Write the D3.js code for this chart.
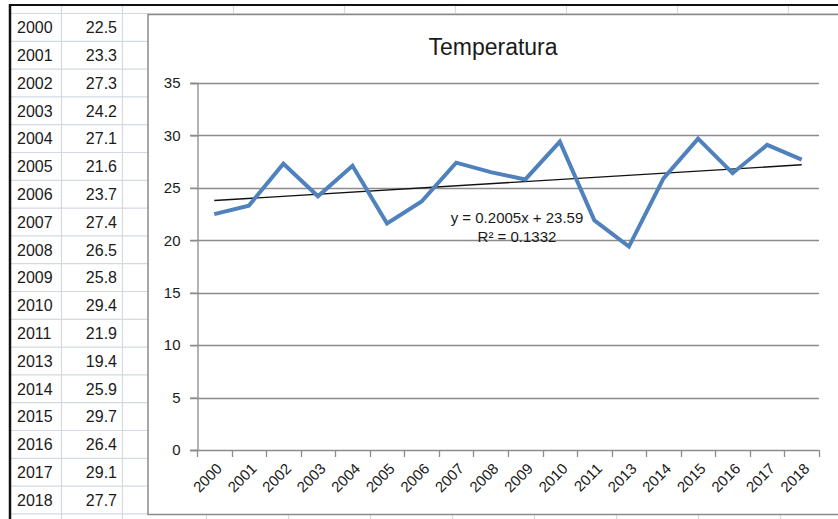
<!DOCTYPE html>
<html>
<head>
<meta charset="utf-8">
<script src="https://cdn.jsdelivr.net/npm/d3@7"></script>
<style>
  body { margin: 0; background: #fff; }
  svg { display: block; font-family: "Liberation Sans", Arial, sans-serif; }
</style>
</head>
<body>
<div id="chart"></div>
<script>
//Datos
const years = ['2000','2001','2002','2003','2004','2005','2006','2007','2008','2009',
               '2010','2011','2013','2014','2015','2016','2017','2018'];
const temps = [22.5, 23.3, 27.3, 24.2, 27.1, 21.6, 23.7, 27.4, 26.5, 25.8,
               29.4, 21.9, 19.4, 25.9, 29.7, 26.4, 29.1, 27.7];
const yTicks = [0, 5, 10, 15, 20, 25, 30, 35];
const trendSlope = 0.2005, trendIntercept = 23.59;
const trendLabels = ['y = 0.2005x + 23.59', 'R² = 0.1332'];
const chartTitle = 'Temperatura';

//Colores
const COLOR_LINE = '#4f81bd',
COLOR_GRID = '#8c8c8c',
COLOR_CELL = '#d4d9e2',
COLOR_TEXT = '#1a1a1a';

const W = 838, H = 519;

let svg = d3.select('#chart').append('svg')
    .attr('width', W).attr('height', H);

svg.append('rect').attr('width', W).attr('height', H).attr('fill', '#fff');

//Hoja de cálculo (fondo)
let rowH = 27.8, rowTop = 13.5;
let sheet = svg.append('g');

sheet.selectAll('.hrow')
    .data(d3.range(years.length + 1))
    .enter().append('line')
    .attr('x1', 10).attr('x2', 150)
    .attr('y1', d => rowTop + d * rowH).attr('y2', d => rowTop + d * rowH)
    .attr('stroke', COLOR_CELL).attr('stroke-width', 1.2);

sheet.selectAll('.vcol')
    .data([61.5, 122.5])
    .enter().append('line')
    .attr('x1', d => d).attr('x2', d => d)
    .attr('y1', 5).attr('y2', H)
    .attr('stroke', COLOR_CELL).attr('stroke-width', 1.2);

//marcas de columnas por encima y por debajo del gráfico
sheet.selectAll('.vtop')
    .data([233.5, 344.5, 455.5, 566.5, 677.5, 788.5])
    .enter().append('line')
    .attr('x1', d => d).attr('x2', d => d)
    .attr('y1', 5).attr('y2', 14)
    .attr('stroke', COLOR_CELL).attr('stroke-width', 1.2);

sheet.selectAll('.vbot')
    .data([206.5, 288.5, 370.5, 452.5, 534.5, 616.5, 698.5, 780.5])
    .enter().append('line')
    .attr('x1', d => d).attr('x2', d => d)
    .attr('y1', 515).attr('y2', H)
    .attr('stroke', COLOR_CELL).attr('stroke-width', 1.2);

sheet.append('line')
    .attr('x1', 10).attr('x2', W).attr('y1', 13.5).attr('y2', 13.5)
    .attr('stroke', COLOR_CELL).attr('stroke-width', 1.2);

//Bordes negros
sheet.append('line')
    .attr('x1', 9).attr('x2', W).attr('y1', 5).attr('y2', 5)
    .attr('stroke', '#111').attr('stroke-width', 2);
sheet.append('line')
    .attr('x1', 10).attr('x2', 10).attr('y1', 4).attr('y2', H)
    .attr('stroke', '#111').attr('stroke-width', 2.5);

//Texto de la tabla
let cells = sheet.selectAll('.cell')
    .data(years.map((y, i) => ({ year: y, temp: temps[i], i: i })))
    .enter().append('g')
    .attr('transform', d => 'translate(0,' + (rowTop + d.i * rowH + rowH / 2) + ')');

cells.append('text')
    .attr('x', 17).attr('dy', '0.36em')
    .attr('font-size', 16).attr('fill', COLOR_TEXT)
    .text(d => d.year);

cells.append('text')
    .attr('x', 117).attr('dy', '0.36em')
    .attr('text-anchor', 'end')
    .attr('font-size', 16).attr('fill', COLOR_TEXT)
    .text(d => d.temp.toFixed(1));

//Área del gráfico
svg.append('rect')
    .attr('x', 148).attr('y', 14.5)
    .attr('width', W - 148 + 2).attr('height', 500)
    .attr('fill', '#fff')
    .attr('stroke', '#8a8a8a').attr('stroke-width', 1.5);

let x = d3.scaleBand()
    .domain(years)
    .range([197, 819]);

let y = d3.scaleLinear()
    .domain([0, 35])
    .range([450, 83]);

let plot = svg.append('g');

//Líneas de cuadrícula
plot.selectAll('.grid')
    .data(yTicks.filter(d => d > 0))
    .enter().append('line')
    .attr('x1', 190).attr('x2', 819)
    .attr('y1', d => Math.round(y(d)) + 0.5).attr('y2', d => Math.round(y(d)) + 0.5)
    .attr('stroke', COLOR_GRID).attr('stroke-width', 1.3);

//Eje Y
let yAxis = plot.append('g')
    .attr('transform', 'translate(197.5,0)')
    .call(d3.axisLeft(y).tickValues(yTicks).tickSize(7).tickPadding(10));
yAxis.select('.domain').attr('stroke', COLOR_GRID).attr('stroke-width', 1.3);
yAxis.selectAll('.tick line').attr('stroke', COLOR_GRID).attr('stroke-width', 1.3);
yAxis.selectAll('.tick text')
    .attr('font-size', 15).attr('fill', COLOR_TEXT)
    .attr('font-family', '"Liberation Sans", Arial, sans-serif');

//Eje X
let xBounds = years.map(d => x(d)).concat([x.range()[1]]);
let xAxis = plot.append('g');
xAxis.append('line')
    .attr('x1', 190).attr('x2', 819)
    .attr('y1', 450.5).attr('y2', 450.5)
    .attr('stroke', COLOR_GRID).attr('stroke-width', 1.3);
xAxis.selectAll('.xtick')
    .data(xBounds)
    .enter().append('line')
    .attr('x1', d => Math.round(d) + 0.5).attr('x2', d => Math.round(d) + 0.5)
    .attr('y1', 450).attr('y2', 457)
    .attr('stroke', COLOR_GRID).attr('stroke-width', 1.3);
xAxis.selectAll('.xlabel')
    .data(years)
    .enter().append('text')
    .attr('transform', d => 'translate(' + (x(d) + x.bandwidth() / 2 + 5) + ',466) rotate(-45)')
    .attr('text-anchor', 'end')
    .attr('dy', '0.35em')
    .attr('font-size', 15).attr('fill', COLOR_TEXT)
    .text(d => d);

//Línea de tendencia
let trend = [1, years.length].map(i => ({ year: years[i - 1], v: trendSlope * i + trendIntercept }));
plot.append('path')
    .datum(trend)
    .attr('fill', 'none')
    .attr('stroke', '#111')
    .attr('stroke-width', 1.4)
    .attr('d', d3.line().x(d => x(d.year) + x.bandwidth() / 2).y(d => y(d.v)));

//Serie
plot.append('path')
    .datum(temps)
    .attr('fill', 'none')
    .attr('stroke', COLOR_LINE)
    .attr('stroke-width', 4)
    .attr('stroke-linejoin', 'miter')
    .attr('d', d3.line().x((d, i) => x(years[i]) + x.bandwidth() / 2).y(d => y(d)));

//Etiqueta de la tendencia
plot.selectAll('.eq')
    .data(trendLabels)
    .enter().append('text')
    .attr('x', 517)
    .attr('y', (d, i) => 223 + i * 19)
    .attr('text-anchor', 'middle')
    .attr('font-size', 15).attr('fill', COLOR_TEXT)
    .text(d => d);

//Título
svg.append('text')
    .attr('x', 493).attr('y', 55)
    .attr('text-anchor', 'middle')
    .attr('font-size', 23).attr('fill', COLOR_TEXT)
    .text(chartTitle);
</script>
</body>
</html>
